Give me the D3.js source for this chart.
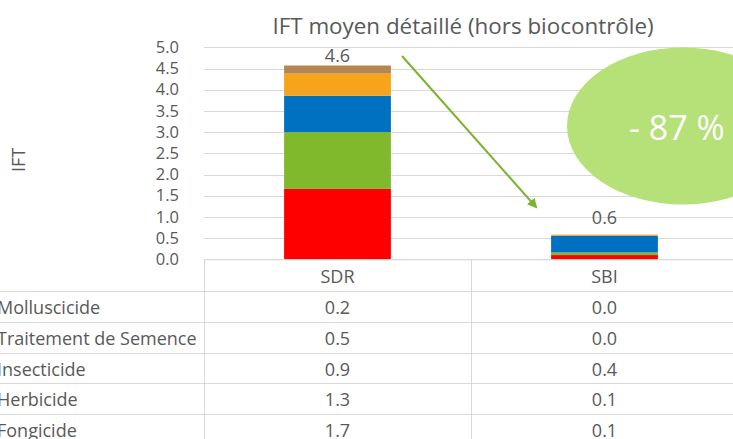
<!doctype html>
<html lang="fr">
<head>
  <meta charset="UTF-8">
  <title>IFT moyen</title>
  <script src="https://cdn.jsdelivr.net/npm/d3@7"></script>
  <style>
    body { margin: 0; background: white; }
    text { font-family: "Open Sans", sans-serif; fill: #595959; }
  </style>
</head>
<body>
<div id="container"></div>
<script type="text/javascript">
var categories = ['SDR', 'SBI'];
// table order, top to bottom
var series = ['Molluscicide', 'Traitement de Semence', 'Insecticide', 'Herbicide', 'Fongicide'];
var sdrValues = [0.19, 0.52, 0.86, 1.34, 1.66];
var sbiValues = [0.01, 0.02, 0.39, 0.06, 0.10];
var colors = ['#b8844f', '#f6a51b', '#0070c0', '#80b92c', '#ff0000'];
var yTicks = [0, 0.5, 1, 1.5, 2, 2.5, 3, 3.5, 4, 4.5, 5];
var title = 'IFT moyen détaillé (hors biocontrôle)';
var reduction = '- 87 %';

var width = 733, height = 439;
var fs = '18px';
var labelDy = { SDR: -4, SBI: -11 };

var svg = d3.select('#container').append('svg')
  .attr('width', width)
  .attr('height', height);

var rows = categories.map(function(c, i) {
  var r = { cat: c };
  series.forEach(function(s, j) {
    r[s] = (i == 0 ? sdrValues : sbiValues)[j];
  });
  return r;
});

var x = d3.scaleBand().domain(categories).range([204, 738]);
var y = d3.scaleLinear().domain([0, 5]).range([259.3, 47.3]);
var fmt = d3.format('.1f');

// title
svg.append('text')
  .attr('x', 463).attr('y', 34)
  .attr('text-anchor', 'middle')
  .style('font-size', '22.4px')
  .text(title);

// y axis label
svg.append('text')
  .attr('transform', 'translate(25,160) rotate(-90)')
  .attr('text-anchor', 'middle')
  .style('font-size', fs)
  .text('IFT');

// gridlines
svg.append('g').selectAll('line').data(yTicks).enter().append('line')
  .attr('x1', 204).attr('x2', width)
  .attr('y1', function(d) { return Math.round(y(d)) + 0.5; })
  .attr('y2', function(d) { return Math.round(y(d)) + 0.5; })
  .attr('stroke', '#d9d9d9');

var yAxis = svg.append('g')
  .attr('transform', 'translate(179,0)')
  .call(d3.axisLeft(y).tickValues(yTicks).tickSize(0).tickFormat(fmt));
yAxis.select('.domain').remove();
yAxis.selectAll('text')
  .attr('x', 0)
  .style('font-size', '16.5px')
  .style('font-family', '"Open Sans", sans-serif')
  .attr('fill', '#595959');

// stacked bars, bottom up
var stackKeys = series.slice().reverse();
var stack = d3.stack().keys(stackKeys)(rows);
var color = d3.scaleOrdinal().domain(series).range(colors);
var barW = x.bandwidth() * 0.4;

svg.append('g').selectAll('g').data(stack).enter().append('g')
  .attr('fill', function(d) { return color(d.key); })
  .selectAll('rect').data(function(d) { return d; }).enter().append('rect')
  .attr('x', function(d) { return x(d.data.cat) + (x.bandwidth() - barW) / 2; })
  .attr('width', barW)
  .attr('y', function(d) { return y(d[1]); })
  .attr('height', function(d) { return y(d[0]) - y(d[1]); });

// totals
svg.append('g').selectAll('text').data(rows).enter().append('text')
  .attr('x', function(d) { return x(d.cat) + x.bandwidth() / 2; })
  .attr('y', function(d) { return y(d3.sum(series, function(s) { return d[s]; })) + labelDy[d.cat]; })
  .attr('text-anchor', 'middle')
  .style('font-size', fs)
  .text(function(d) { return fmt(d3.sum(series, function(s) { return d[s]; })); });

// arrow
var defs = svg.append('defs');
defs.append('marker')
  .attr('id', 'head')
  .attr('viewBox', '0 0 10 10')
  .attr('refX', 8).attr('refY', 5)
  .attr('markerWidth', 5).attr('markerHeight', 5)
  .attr('orient', 'auto')
  .append('path').attr('d', 'M0,0 L10,5 L0,10 z').attr('fill', '#7ab32e');
svg.append('line')
  .attr('x1', 402).attr('y1', 56)
  .attr('x2', 536).attr('y2', 207)
  .attr('stroke', '#7ab32e').attr('stroke-width', 2)
  .attr('marker-end', 'url(#head)');

// reduction bubble
svg.append('ellipse')
  .attr('cx', 683).attr('cy', 126)
  .attr('rx', 116).attr('ry', 78.5)
  .attr('fill', '#b6e078');
svg.append('text')
  .attr('x', 629).attr('y', 140)
  .style('font-size', '34px')
  .style('fill', '#ffffff')
  .text(reduction);

// data table
var headH = 33, rowH = 30.7, top0 = 259.3;
var table = svg.append('g');
table.append('line')
  .attr('x1', 204.5).attr('x2', 204.5).attr('y1', top0).attr('y2', height)
  .attr('stroke', '#d9d9d9');
table.append('line')
  .attr('x1', x('SBI') + 0.5).attr('x2', x('SBI') + 0.5).attr('y1', top0).attr('y2', height)
  .attr('stroke', '#d9d9d9');
table.append('line')
  .attr('x1', 204).attr('x2', width).attr('y1', top0 + 0.5).attr('y2', top0 + 0.5)
  .attr('stroke', '#d9d9d9');
table.selectAll('.rowline').data(series).enter().append('line')
  .attr('class', 'rowline')
  .attr('x1', 0).attr('x2', width)
  .attr('y1', function(d, i) { return Math.round(top0 + headH + i * rowH) - 0.5; })
  .attr('y2', function(d, i) { return Math.round(top0 + headH + i * rowH) - 0.5; })
  .attr('stroke', '#d9d9d9');

table.selectAll('.head').data(categories).enter().append('text')
  .attr('x', function(d) { return x(d) + x.bandwidth() / 2; })
  .attr('y', top0 + headH / 2 + 7)
  .attr('text-anchor', 'middle')
  .style('font-size', fs)
  .text(function(d) { return d; });

table.selectAll('.lab').data(series).enter().append('text')
  .attr('x', -3)
  .attr('y', function(d, i) { return top0 + headH + i * rowH + rowH / 2 + 6.5; })
  .style('font-size', fs)
  .text(function(d) { return d; });

series.forEach(function(s, i) {
  table.selectAll('.v' + i).data(rows).enter().append('text')
    .attr('x', function(d) { return x(d.cat) + x.bandwidth() / 2; })
    .attr('y', top0 + headH + i * rowH + rowH / 2 + 6.5)
    .attr('text-anchor', 'middle')
    .style('font-size', fs)
    .text(function(d) { return fmt(d[s]); });
});
</script>
</body>
</html>
